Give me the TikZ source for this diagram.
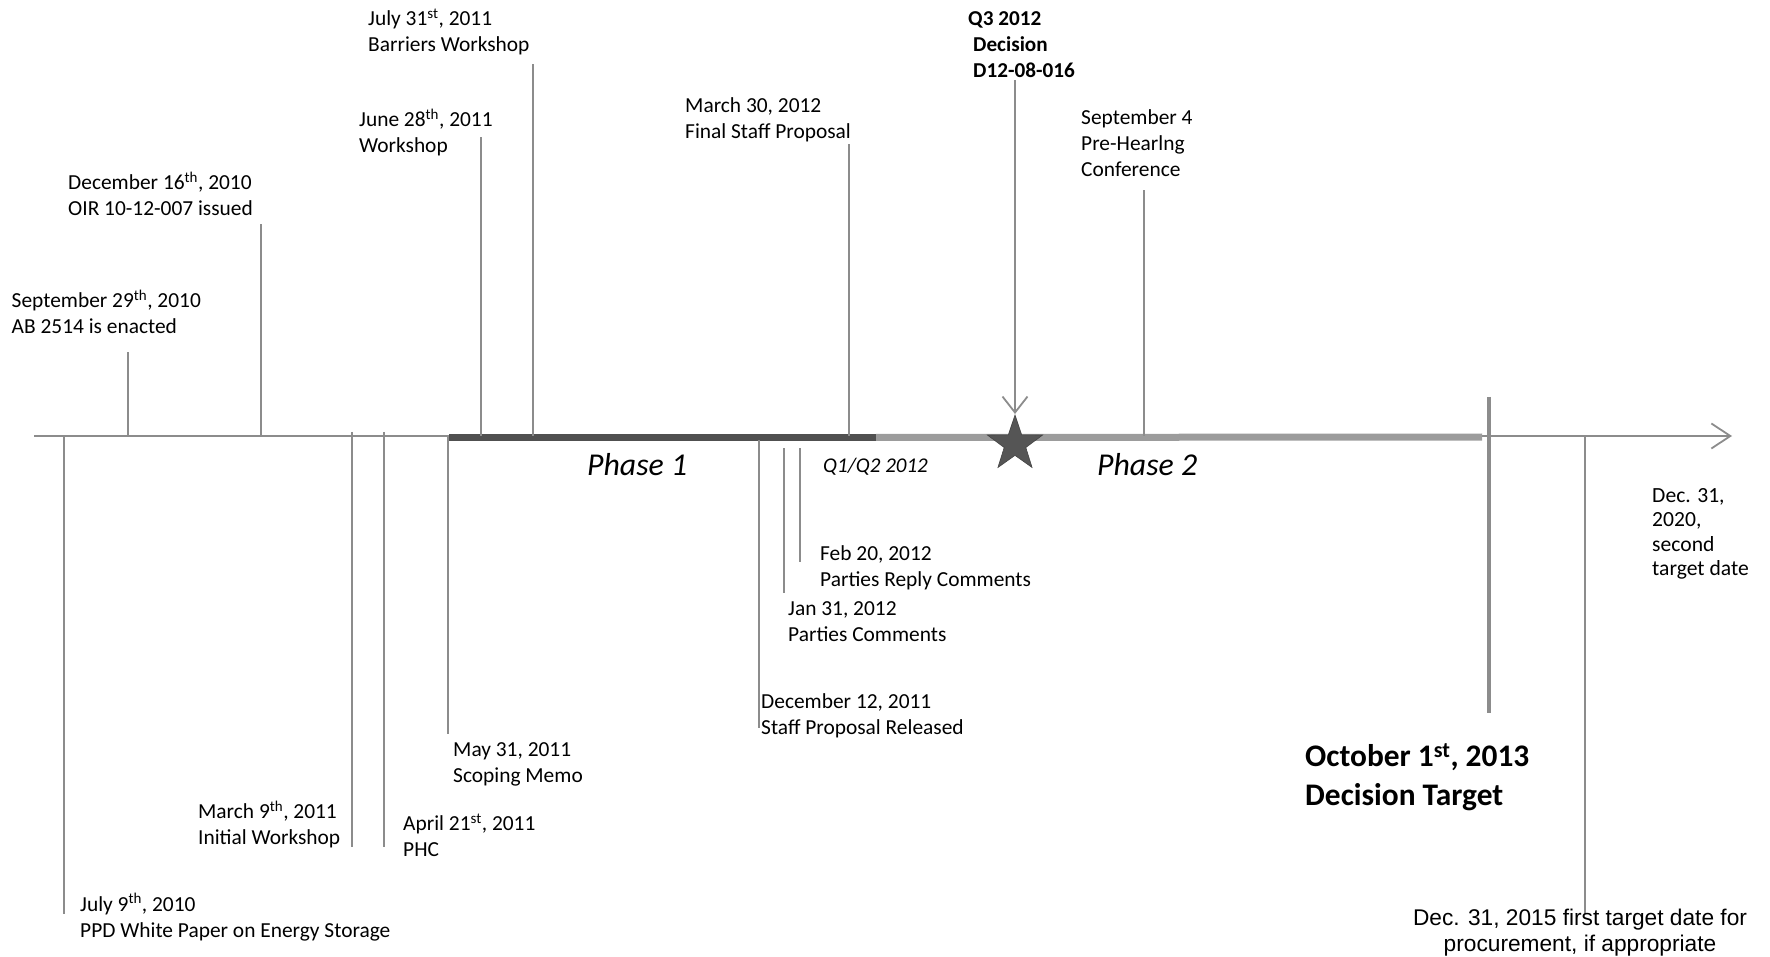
\documentclass[tikz,border=0pt]{standalone}
\usepackage{fontspec}
\setmainfont{Carlito}
\newfontfamily\arialfont{Liberation Sans}
\usetikzlibrary{arrows.meta,shapes.geometric}
\definecolor{linegray}{HTML}{8C8C8C}
\definecolor{darkbar}{HTML}{505050}
\definecolor{lightbar}{HTML}{9C9C9C}
\definecolor{stargray}{HTML}{555555}
\tikzset{
  lbl/.style={anchor=north west, inner sep=0pt, align=left, font=\fontsize{21.4}{26}\selectfont},
  boldlbl/.style={anchor=north west, inner sep=0pt, align=left, font=\fontsize{21.2}{26}\selectfont\bfseries},
  biglbl/.style={anchor=north west, inner sep=0pt, align=left, font=\fontsize{31.4}{39.5}\selectfont\bfseries},
  narrowlbl/.style={anchor=north west, inner sep=0pt, align=left, font=\fontsize{21.6}{24.5}\selectfont},
  ariallbl/.style={anchor=north, inner sep=0pt, align=center, font=\arialfont\fontsize{22.7}{26}\selectfont},
  phaselbl/.style={anchor=west, inner sep=0pt, font=\fontsize{31.8}{38}\selectfont\itshape},
  quarterlbl/.style={anchor=west, inner sep=0pt, font=\fontsize{21}{25}\selectfont\itshape},
  tickline/.style={draw=linegray, line width=1.5pt},
  axisline/.style={draw=linegray, line width=1.8pt, -{Straight Barb[length=19pt,width=25pt,line width=1.8pt]}},
  darkseg/.style={draw=darkbar, line width=7pt},
  lightseg/.style={draw=lightbar, line width=7pt},
  targetline/.style={draw=lightbar!90!black, line width=4.5pt},
  decarrow/.style={draw=linegray, line width=1.8pt, -{Straight Barb[length=16pt,width=25pt,line width=1.8pt]}},
  starmark/.style={star, star points=5, star point ratio=2.55, minimum size=58pt, inner sep=0pt, fill=stargray, draw=stargray!80!black, line width=0.6pt}
}
\begin{document}
\begin{tikzpicture}[x=1pt,y=-1pt]
\useasboundingbox (0,0) rectangle (1770,957);
% axis
\coordinate (ax0) at (34,436);
\coordinate (ax1) at (1732,436);
\draw[axisline] (ax0) -- (ax1);
% phase bars
\coordinate (p1s) at (449,437.5);
\coordinate (p1e) at (876,437.5);
\coordinate (p2e) at (1482,437);
\draw[darkseg] (p1s) -- (p1e);
\draw[lightseg] (p1e) -- (p2e);
% decision target tick
\coordinate (oct0) at (1489,397);
\coordinate (oct1) at (1489,713);
\draw[targetline] (oct0) -- (oct1);
% upper ticks
\coordinate (t1a) at (128,436); \coordinate (t1b) at (128,352);
\coordinate (t2a) at (261,436); \coordinate (t2b) at (261,224);
\coordinate (t3a) at (481,436); \coordinate (t3b) at (481,137);
\coordinate (t4a) at (533,436); \coordinate (t4b) at (533,64);
\coordinate (t5a) at (849,436); \coordinate (t5b) at (849,144);
\coordinate (t6a) at (1144,436); \coordinate (t6b) at (1144,190);
\draw[tickline] (t1a) -- (t1b);
\draw[tickline] (t2a) -- (t2b);
\draw[tickline] (t3a) -- (t3b);
\draw[tickline] (t4a) -- (t4b);
\draw[tickline] (t5a) -- (t5b);
\draw[tickline] (t6a) -- (t6b);
% lower ticks
\coordinate (b1a) at (64,436);  \coordinate (b1b) at (64,914);
\coordinate (b2a) at (352,432); \coordinate (b2b) at (352,847);
\coordinate (b3a) at (384,432); \coordinate (b3b) at (384,847);
\coordinate (b4a) at (448,436); \coordinate (b4b) at (448,734);
\coordinate (b5a) at (759,440); \coordinate (b5b) at (759,728);
\coordinate (b6a) at (784,448); \coordinate (b6b) at (784,593);
\coordinate (b7a) at (800,448); \coordinate (b7b) at (800,562);
\coordinate (b8a) at (1585,436); \coordinate (b8b) at (1585,914);
\draw[tickline] (b1a) -- (b1b);
\draw[tickline] (b2a) -- (b2b);
\draw[tickline] (b3a) -- (b3b);
\draw[tickline] (b4a) -- (b4b);
\draw[tickline] (b5a) -- (b5b);
\draw[tickline] (b6a) -- (b6b);
\draw[tickline] (b7a) -- (b7b);
\draw[tickline] (b8a) -- (b8b);
% star and decision arrow
\node[starmark] (decstar) at (1015,444) {};
\coordinate (dectop) at (1015,80);
\coordinate (dectip) at (1015,414);
\draw[decarrow] (dectop) -- (dectip);
% upper labels
\node[lbl] (lsep29) at (11.5,289.5) {September 29\textsuperscript{th}, 2010\\AB 2514 is enacted};
\node[lbl] (ldec16) at (68,171.5) {December 16\textsuperscript{th}, 2010\\OIR 10-12-007 issued};
\node[lbl] (ljun28) at (359,108.5) {June 28\textsuperscript{th}, 2011\\Workshop};
\node[lbl] (ljul31) at (368,8.5) {July 31\textsuperscript{st}, 2011\\Barriers Workshop};
\node[lbl] (lmar30) at (685,97.5) {March 30, 2012\\Final Staff Proposal};
\node[boldlbl] (lq3) at (968,11) {Q3 2012\\\hspace*{5pt}Decision\\\hspace*{5pt}D12-08-016};
\node[lbl] (lsep4) at (1081,109) {September 4\\Pre-Hearlng\\Conference};
% lower labels
\node[lbl] (ljul9) at (80,893) {July 9\textsuperscript{th}, 2010\\PPD White Paper on Energy Storage};
\node[lbl] (lmar9) at (198,800.5) {March 9\textsuperscript{th}, 2011\\Initial Workshop};
\node[lbl] (lapr21) at (403,813.5) {April 21\textsuperscript{st}, 2011\\PHC};
\node[lbl] (lmay31) at (453,742) {May 31, 2011\\Scoping Memo};
\node[lbl] (ldec12) at (761,693.5) {December 12, 2011\\Staff Proposal Released};
\node[lbl] (ljan31) at (788,601.5) {Jan 31, 2012\\Parties Comments};
\node[lbl] (lfeb20) at (820,545) {Feb 20, 2012\\Parties Reply Comments};
\node[narrowlbl] (ldec20) at (1652,488) {Dec. 31,\\2020,\\second\\target date};
\node[biglbl] (loct) at (1305,743) {October 1\textsuperscript{st}, 2013\\Decision Target};
\node[ariallbl] (ldec15) at (1580,909) {Dec. 31, 2015 first target date for\\procurement, if appropriate};
% phase labels
\node[phaselbl] (lph1) at (587,465) {Phase 1};
\node[phaselbl] (lph2) at (1097,465) {Phase 2};
\node[quarterlbl] (lq12) at (823,467) {Q1/Q2 2012};
\end{tikzpicture}
\end{document}
